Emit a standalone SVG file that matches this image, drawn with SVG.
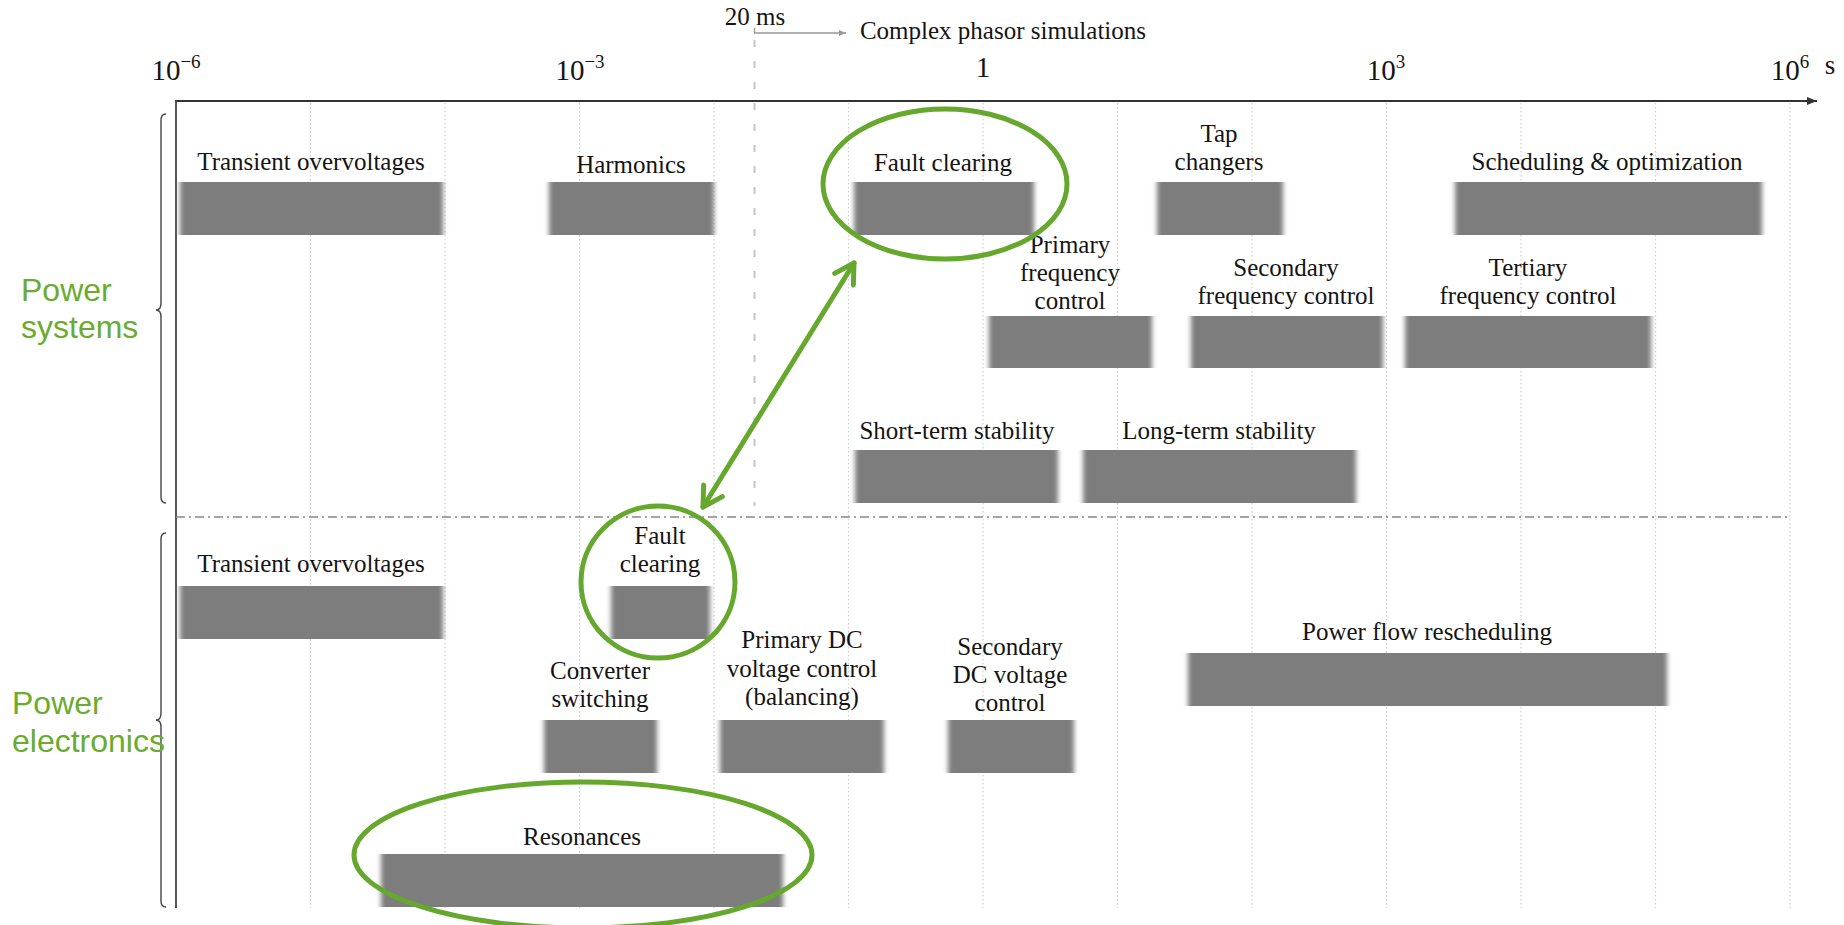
<svg xmlns="http://www.w3.org/2000/svg" width="1844" height="925" viewBox="0 0 1844 925">
<style>
.lbl{font-family:"Liberation Serif","DejaVu Serif",serif;font-size:25px;fill:#141414;text-anchor:middle}
.tick{font-family:"Liberation Serif","DejaVu Serif",serif;font-size:29px;fill:#141414;text-anchor:middle}
.sup{font-size:19px}
.grp{font-family:"Liberation Sans",Arial,sans-serif;font-size:32px;fill:#6aab30}
.bar{fill:#7d7d7d;filter:url(#soft)}
.grid{stroke:#cfcfcf;stroke-width:1.2;stroke-dasharray:1.5 2.5;fill:none}
.brace{stroke:#444;stroke-width:1.4;fill:none}
.hl{fill:none;stroke:#66a82e;stroke-width:5}
</style>
<defs>
<filter id="soft" x="-0.15" y="0" width="1.3" height="1"><feGaussianBlur stdDeviation="2.8 0"/></filter>
<marker id="axhead" markerUnits="userSpaceOnUse" markerWidth="14" markerHeight="10" refX="10" refY="5" orient="auto" overflow="visible"><path d="M0,1 L10,5 L0,9 z" fill="#333"/></marker>
<marker id="smallhead" markerUnits="userSpaceOnUse" markerWidth="10" markerHeight="8" refX="7" refY="4" orient="auto" overflow="visible"><path d="M0,1 L7,4 L0,7 z" fill="#999"/></marker>
<marker id="ghead" markerUnits="userSpaceOnUse" markerWidth="30" markerHeight="30" refX="0" refY="0" orient="auto-start-reverse" overflow="visible"><path d="M-19,-11 L0,0 L-19,11" fill="none" stroke="#66a82e" stroke-width="5" stroke-linecap="round" stroke-linejoin="round"/></marker>
</defs>
<rect width="1844" height="925" fill="#fff"/>

<g id="grid">
<line class="grid" x1="310.5" y1="103" x2="310.5" y2="908"/>
<line class="grid" x1="445" y1="103" x2="445" y2="908"/>
<line class="grid" x1="579.5" y1="103" x2="579.5" y2="908"/>
<line class="grid" x1="714" y1="103" x2="714" y2="908"/>
<line class="grid" x1="848.5" y1="103" x2="848.5" y2="908"/>
<line class="grid" x1="983" y1="103" x2="983" y2="908"/>
<line class="grid" x1="1117.5" y1="103" x2="1117.5" y2="908"/>
<line class="grid" x1="1252" y1="103" x2="1252" y2="908"/>
<line class="grid" x1="1386.5" y1="103" x2="1386.5" y2="908"/>
<line class="grid" x1="1521" y1="103" x2="1521" y2="908"/>
<line class="grid" x1="1655.5" y1="103" x2="1655.5" y2="908"/>
<line class="grid" x1="1790" y1="103" x2="1790" y2="908"/>
</g>

<g id="axes">
<line x1="176" y1="101" x2="1817" y2="101" stroke="#333" stroke-width="1.8" marker-end="url(#axhead)"/>
<line x1="176" y1="100" x2="176" y2="908" stroke="#444" stroke-width="1.8"/>
<text class="tick" x="176" y="80">10<tspan class="sup" dy="-12">−6</tspan></text>
<text class="tick" x="580" y="80">10<tspan class="sup" dy="-12">−3</tspan></text>
<text class="tick" x="983" y="77">1</text>
<text class="tick" x="1386" y="80">10<tspan class="sup" dy="-12">3</tspan></text>
<text class="tick" x="1790" y="80">10<tspan class="sup" dy="-12">6</tspan></text>
<text class="lbl" x="1830" y="74" style="font-size:27px">s</text>
<line x1="176" y1="517" x2="1790" y2="517" stroke="#888" stroke-width="1.6" stroke-dasharray="9 4 2 4"/>
<line x1="754.5" y1="40" x2="754.5" y2="506" stroke="#c6c6c6" stroke-width="2" stroke-dasharray="7 14"/>
<path d="M754.5,28 L754.5,33 L846,33" fill="none" stroke="#999" stroke-width="1.4" marker-end="url(#smallhead)"/>
<text class="lbl" x="755" y="25">20 ms</text>
<text class="lbl" x="1003" y="39">Complex phasor simulations</text>
</g>

<g id="braces">
<path class="brace" d="M166,114 Q161,114 161,120 L161,303 Q161,310 156,310 Q161,310 161,317 L161,497 Q161,503 166,503"/>
<path class="brace" d="M166,533 Q161,533 161,539 L161,713 Q161,720 156,720 Q161,720 161,727 L161,901 Q161,907 166,907"/>
</g>

<g id="group-power-systems">
<text class="grp" x="21" y="301">Power</text>
<text class="grp" x="21" y="338">systems</text>
</g>
<g id="group-power-electronics">
<text class="grp" x="12" y="714">Power</text>
<text class="grp" x="12" y="752">electronics</text>
</g>

<g id="ps-transient"><rect class="bar" x="180" y="182" width="263" height="53"/><text class="lbl" x="311" y="170">Transient overvoltages</text></g>
<g id="ps-harmonics"><rect class="bar" x="549" y="182" width="165" height="53"/><text class="lbl" x="631" y="173">Harmonics</text></g>
<g id="ps-fault"><rect class="bar" x="854" y="182" width="180" height="53"/><text class="lbl" x="943" y="171">Fault clearing</text></g>
<g id="ps-tap"><rect class="bar" x="1157" y="182" width="126" height="53"/><text class="lbl" x="1219" y="142">Tap</text><text class="lbl" x="1219" y="170">changers</text></g>
<g id="ps-scheduling"><rect class="bar" x="1455" y="182" width="307" height="53"/><text class="lbl" x="1607" y="170">Scheduling &amp; optimization</text></g>

<g id="ps-primary-freq"><rect class="bar" x="989" y="316" width="163" height="52"/><text class="lbl" x="1070" y="253">Primary</text><text class="lbl" x="1070" y="281">frequency</text><text class="lbl" x="1070" y="309">control</text></g>
<g id="ps-secondary-freq"><rect class="bar" x="1191" y="316" width="192" height="52"/><text class="lbl" x="1286" y="276">Secondary</text><text class="lbl" x="1286" y="304">frequency control</text></g>
<g id="ps-tertiary-freq"><rect class="bar" x="1405" y="316" width="246" height="52"/><text class="lbl" x="1528" y="276">Tertiary</text><text class="lbl" x="1528" y="304">frequency control</text></g>

<g id="ps-short-term"><rect class="bar" x="855" y="450" width="203" height="53"/><text class="lbl" x="957" y="439">Short-term stability</text></g>
<g id="ps-long-term"><rect class="bar" x="1083" y="450" width="273" height="53"/><text class="lbl" x="1219" y="439">Long-term stability</text></g>

<g id="pe-transient"><rect class="bar" x="180" y="586" width="263" height="53"/><text class="lbl" x="311" y="572">Transient overvoltages</text></g>
<g id="pe-fault"><rect class="bar" x="611" y="586" width="99" height="53"/><text class="lbl" x="660" y="544">Fault</text><text class="lbl" x="660" y="572">clearing</text></g>
<g id="pe-power-flow"><rect class="bar" x="1188" y="653" width="479" height="53"/><text class="lbl" x="1427" y="640">Power flow rescheduling</text></g>
<g id="pe-converter"><rect class="bar" x="544" y="720" width="113" height="53"/><text class="lbl" x="600" y="679">Converter</text><text class="lbl" x="600" y="707">switching</text></g>
<g id="pe-primary-dc"><rect class="bar" x="720" y="720" width="164" height="53"/><text class="lbl" x="802" y="648">Primary DC</text><text class="lbl" x="802" y="677">voltage control</text><text class="lbl" x="802" y="705">(balancing)</text></g>
<g id="pe-secondary-dc"><rect class="bar" x="948" y="720" width="126" height="53"/><text class="lbl" x="1010" y="655">Secondary</text><text class="lbl" x="1010" y="683">DC voltage</text><text class="lbl" x="1010" y="711">control</text></g>
<g id="pe-resonances"><rect class="bar" x="381" y="854" width="402" height="53"/><text class="lbl" x="582" y="845">Resonances</text></g>

<g id="highlights">
<ellipse class="hl" cx="945" cy="184" rx="122" ry="75"/>
<ellipse class="hl" cx="658" cy="582" rx="77" ry="76"/>
<ellipse class="hl" cx="583" cy="855" rx="229" ry="73"/>
</g>

<g id="connectors">
<line x1="703" y1="507" x2="854" y2="263" stroke="#66a82e" stroke-width="5" stroke-linecap="round" marker-start="url(#ghead)" marker-end="url(#ghead)"/>
</g>
</svg>
